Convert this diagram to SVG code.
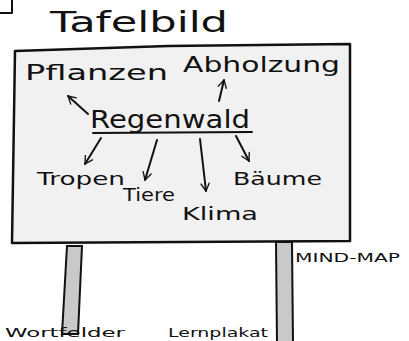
<svg xmlns="http://www.w3.org/2000/svg" width="409" height="341" viewBox="0 0 409 341">
<defs>
<style>
.hw{font-family:"DejaVu Sans","Liberation Sans",sans-serif;fill:#111;}
.ln{stroke:#111;stroke-width:2;fill:none;stroke-linecap:round;stroke-linejoin:round;}
.post{fill:#c9c9c9;stroke:#111;stroke-width:2;}
</style>
<marker id="ah" viewBox="0 0 12 12" refX="10" refY="6" markerWidth="10" markerHeight="10" markerUnits="userSpaceOnUse" orient="auto">
<path d="M1,1 L10,6 L1,11" fill="none" stroke="#111" stroke-width="1.6" stroke-linecap="round" stroke-linejoin="round"/>
</marker>
</defs>
<rect width="409" height="341" fill="#ffffff"/>
<path class="ln" d="M0,13 L12,13 L12,0"/>
<g id="posts">
<polygon class="post" points="67,246 82,246 78,334 62,334"/>
<polygon class="post" points="276,242 292,242 293,343 277,343"/>
</g>
<g id="board">
<path d="M15,51 L168,46 L350,44 L350,241 L12,243 Z" fill="#f1f1f1" stroke="#111" stroke-width="2.5" stroke-linejoin="round"/>
</g>
<g id="title"><text class="hw" x="50" y="32" font-size="28" textLength="178" lengthAdjust="spacingAndGlyphs">Tafelbild</text></g>
<g id="regenwald">
<text class="hw" x="90" y="128" font-size="24" textLength="160" lengthAdjust="spacingAndGlyphs">Regenwald</text>
<path class="ln" d="M93,133 L252,132"/>
</g>
<g id="pflanzen"><text class="hw" x="25" y="80" font-size="22" textLength="143" lengthAdjust="spacingAndGlyphs">Pflanzen</text></g>
<g id="abholzung"><text class="hw" x="183" y="72" font-size="22" textLength="157" lengthAdjust="spacingAndGlyphs">Abholzung</text></g>
<g id="tropen"><text class="hw" x="37" y="185" font-size="18" textLength="88" lengthAdjust="spacingAndGlyphs">Tropen</text></g>
<g id="tiere"><text class="hw" x="123" y="201" font-size="18" textLength="52" lengthAdjust="spacingAndGlyphs">Tiere</text></g>
<g id="klima"><text class="hw" x="182" y="220" font-size="18" textLength="76" lengthAdjust="spacingAndGlyphs">Klima</text></g>
<g id="baeume"><text class="hw" x="233" y="185" font-size="17" textLength="89" lengthAdjust="spacingAndGlyphs">Bäume</text></g>
<g id="mindmap"><text class="hw" x="295" y="262" font-size="13" textLength="105" lengthAdjust="spacingAndGlyphs">MIND-MAP</text></g>
<g id="bottom-caption">
<text class="hw" x="5" y="337" font-size="13" textLength="120" lengthAdjust="spacingAndGlyphs">Wortfelder</text>
<text class="hw" x="168" y="337" font-size="13" textLength="100" lengthAdjust="spacingAndGlyphs">Lernplakat</text>
</g>
<g id="connectors">
<path class="ln" d="M88,114 L68,96" marker-end="url(#ah)"/>
<path class="ln" d="M219,101 L224,80" marker-end="url(#ah)"/>
<path class="ln" d="M101,138 L85,164" marker-end="url(#ah)"/>
<path class="ln" d="M157,140 L145,180" marker-end="url(#ah)"/>
<path class="ln" d="M200,139 L206,191" marker-end="url(#ah)"/>
<path class="ln" d="M236,136 L249,161" marker-end="url(#ah)"/>
</g>
</svg>
